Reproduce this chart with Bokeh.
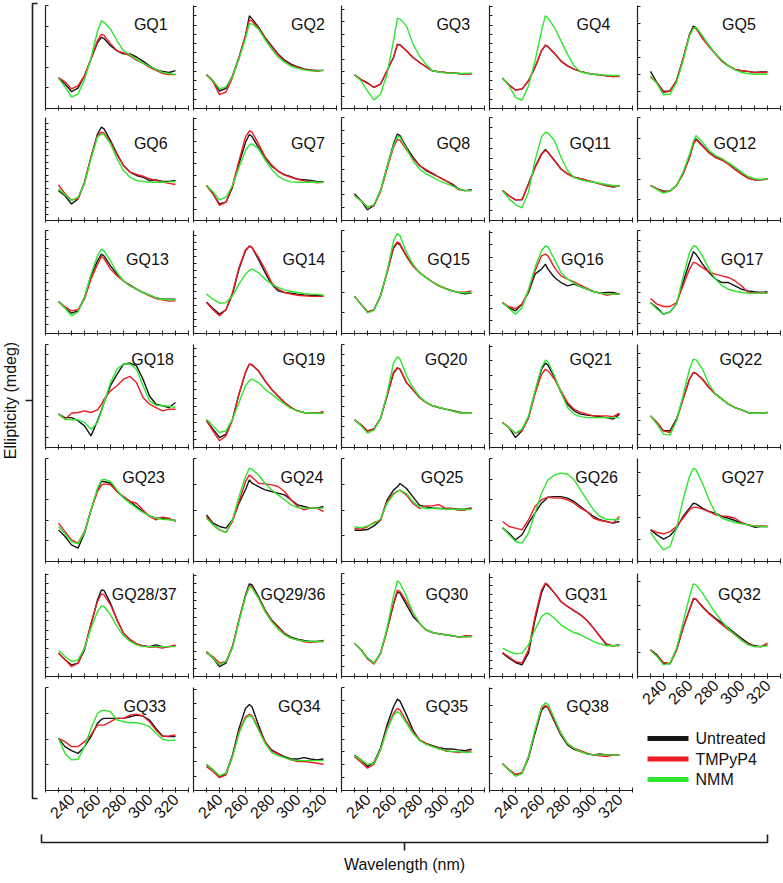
import math
from bokeh.plotting import figure
from bokeh.models import Range1d, FixedTicker, Label
from bokeh.layouts import row, column
from bokeh.core.properties import value
from bokeh.embed import file_html
from bokeh.resources import INLINE

# ---------------- data ----------------
WAVELENGTH = [230, 235, 240, 245, 250, 255, 260, 263, 265, 270, 275, 280, 285, 290, 295, 300, 305, 310, 315, 320]
X_TICK_LABELS = [240, 260, 280, 300, 320]
SERIES_NAMES = ["Untreated", "TMPyP4", "NMM"]

PANEL_GRID = [
    ["GQ1", "GQ2", "GQ3", "GQ4", "GQ5"],
    ["GQ6", "GQ7", "GQ8", "GQ11", "GQ12"],
    ["GQ13", "GQ14", "GQ15", "GQ16", "GQ17"],
    ["GQ18", "GQ19", "GQ20", "GQ21", "GQ22"],
    ["GQ23", "GQ24", "GQ25", "GQ26", "GQ27"],
    ["GQ28/37", "GQ29/36", "GQ30", "GQ31", "GQ32"],
    ["GQ33", "GQ34", "GQ35", "GQ38", None],
]

# CD signal, read off each panel as % of the panel height (no y scale is printed)
UNTREATED = {
    "GQ1": [29.5, 23.7, 16.5, 19.8, 31.8, 48, 64, 69, 68, 61, 56, 53, 53, 50, 46, 41.5, 37.7, 36, 35, 36.7],
    "GQ2": [32.7, 27, 17, 19.5, 31.7, 49.5, 71, 90, 87, 79, 69, 61, 53, 47, 43, 40.5, 38.5, 37.5, 37, 37],
    "GQ3": [32.7, 28, 25, 20.4, 23.6, 36.6, 49.5, 62.5, 61.8, 56, 49.5, 44.7, 40.5, 36.6, 35.6, 35, 34.6, 34, 33.3, 34],
    "GQ4": [29.4, 23, 18, 18.8, 26.9, 39.8, 56, 61.5, 60, 53.4, 46, 41.4, 38.2, 36, 34.3, 33.3, 32.7, 31.7, 31, 31.7],
    "GQ5": [36, 25, 16.5, 17, 27, 48, 72, 80, 78.6, 69, 61, 53, 46, 41.4, 38, 36.6, 36, 35, 35.6, 35.6],
    "GQ6": [29, 24, 16, 21, 37, 61.5, 84, 90.6, 89, 77.7, 64.7, 53.4, 47, 43.7, 42, 38.8, 39.5, 38, 38, 38.8],
    "GQ7": [34, 26, 16, 17.8, 32.4, 55, 76, 83.5, 81.5, 71, 61, 53, 48, 44.5, 42.5, 40, 39.5, 39, 38, 37.5],
    "GQ8": [26, 19.4, 10.4, 14.6, 29, 51.8, 74.4, 84, 82.5, 71, 61.5, 53.4, 48.5, 45.3, 42, 38.8, 35.6, 30.7, 29, 30],
    "GQ11": [29, 24, 20, 20, 35.6, 51.8, 64.7, 69, 66.3, 58.3, 50, 45.3, 42, 40.5, 38.8, 37.2, 35.6, 34, 32.4, 33.6],
    "GQ12": [34, 30.7, 28.5, 28.5, 34, 45.3, 61.5, 75, 79.3, 72.8, 66.3, 61.5, 59, 55, 50, 45.3, 41.4, 39.5, 39.5, 40.5],
    "GQ13": [31, 25, 19.7, 22, 35, 56, 70.6, 77, 75.4, 65.7, 57.6, 51, 47, 43, 39.8, 37.2, 34.6, 33.3, 33.3, 33.3],
    "GQ14": [30.7, 24.3, 18.8, 23, 38.2, 62.5, 80.3, 85, 83.5, 72, 59.2, 48, 41.4, 39.8, 39.2, 38.2, 37.5, 37.2, 37.2, 36.6],
    "GQ15": [36, 28.5, 21, 23, 36.6, 59, 83, 88, 86, 75, 65.7, 59.2, 54.4, 50, 46.3, 43.7, 41.4, 39.8, 38.5, 39.2],
    "GQ16": [30, 25, 22, 28.5, 39.8, 57.6, 62.5, 67.3, 62.5, 54.4, 49.5, 46.3, 47.9, 45.6, 43, 40.8, 39.2, 39.8, 39.8, 38.2],
    "GQ17": [30, 25, 18.8, 21, 28.5, 49.5, 69, 79.3, 77, 67.3, 59.2, 52.8, 49.5, 49.5, 46.3, 43, 41.4, 40.5, 39.8, 40.5],
    "GQ18": [32.4, 29, 29, 26, 21, 11.3, 26, 36, 43.7, 60, 71, 81, 82, 79.3, 66.3, 50, 42, 40.5, 38.8, 43.7],
    "GQ19": [26, 17.8, 9.7, 13, 27.5, 51.8, 72.8, 81, 80, 74.4, 64.7, 56.6, 50, 43.7, 38.8, 35.6, 34, 33.3, 33.3, 34.6],
    "GQ20": [27, 22, 16, 18, 28, 50, 72, 77, 76, 63, 56, 48.5, 43.7, 40.5, 38.8, 37.2, 36, 34.5, 33.3, 33.3],
    "GQ21": [24.3, 19.4, 9.7, 16.2, 29, 53.4, 76, 81.9, 80, 68, 53.4, 42, 35.6, 32.4, 31.4, 30.7, 30, 29, 27.5, 32.4],
    "GQ22": [30.7, 24.3, 16.2, 16.2, 27.5, 47, 66.3, 72.8, 72, 66.3, 58.3, 51.8, 47, 42, 38.8, 36.6, 34, 33.3, 33.3, 34],
    "GQ23": [30.7, 24.3, 16.2, 13, 27.5, 50, 69.6, 77.7, 77.7, 76, 68, 62.5, 58.3, 53.4, 48.5, 44.3, 42, 42, 41, 39.8],
    "GQ24": [45.3, 37.2, 34, 32.4, 40.5, 56.6, 69.6, 79.3, 76, 72.8, 69.6, 68, 66.3, 64.7, 59.9, 55, 53.4, 51.8, 51.8, 53.4],
    "GQ25": [30.4, 30.4, 31, 34.6, 40, 59.5, 69.3, 72.5, 75.7, 70.9, 62.8, 54.7, 53, 52, 51.5, 51.5, 51.5, 50.8, 50.8, 52],
    "GQ26": [32.4, 27.5, 21, 26, 37.2, 47, 56.6, 60, 62.5, 63, 63, 61.5, 58.3, 53.4, 48.5, 43.7, 40.5, 38.8, 37.2, 38.8],
    "GQ27": [30.7, 25.9, 21.7, 25, 32.4, 43.7, 51.8, 56.6, 56, 51.8, 48.5, 47, 43.7, 42, 39.8, 37.2, 35.6, 33.3, 34, 34],
    "GQ28/37": [22.7, 16.2, 11.3, 13, 25.9, 50.2, 74.4, 84, 83.5, 71.2, 55, 42, 35.6, 31.7, 29.8, 29, 30.7, 29, 29, 29.8],
    "GQ29/36": [24.3, 17.8, 9.7, 13, 29, 55, 79.3, 90, 89, 77.7, 64.7, 55, 48.5, 42, 38.2, 36.2, 35, 34, 34, 35],
    "GQ30": [32.4, 26, 17.8, 13, 22.7, 45, 70, 82, 81, 69.6, 58.3, 51.8, 45.3, 42.7, 41.4, 40.5, 39.5, 38.5, 38.8, 38.8],
    "GQ31": [22.7, 17.8, 13.6, 11.3, 22.7, 55, 81, 90, 88, 81, 72.8, 68, 64, 59.9, 54.4, 47, 38.8, 30.7, 29.8, 30.7],
    "GQ32": [25.9, 21, 13, 12.3, 25.9, 47, 64.7, 75, 75, 68, 61.5, 56.6, 51.8, 47, 42, 37.2, 32.4, 29.8, 29, 30.7],
    "GQ33": [50.6, 42.6, 38.7, 36, 42.6, 52.3, 65.2, 69, 70, 70, 70, 70, 71.6, 73.2, 72.3, 68.4, 60.3, 52.9, 52.3, 52.3],
    "GQ34": [24.8, 20, 12.6, 16.8, 34.5, 60.3, 79.7, 83.5, 81.3, 63.5, 47.4, 39.4, 36.1, 32.9, 30.6, 30.6, 31.9, 30.6, 29.7, 30.6],
    "GQ35": [34.5, 29.7, 23.2, 27.4, 41, 63.5, 81.3, 88.7, 86.8, 73.2, 58.7, 49, 45.8, 43.5, 41.6, 40.3, 40.3, 39.4, 38.7, 40],
    "GQ38": [26, 20.2, 15.4, 17, 31.4, 55.4, 77.9, 81.7, 80.4, 66.7, 53.8, 44.2, 40, 37.8, 35.6, 34.6, 35.6, 34.6, 34.6, 34.6],
}

TMPYP4 = {
    "GQ1": [30, 26, 19, 22, 32, 48, 66, 72, 71, 63, 56, 54, 51, 47, 44, 40, 37, 34, 33, 33],
    "GQ2": [32.7, 26, 13.5, 16, 30, 49, 71, 86, 85, 78, 68, 60, 52, 46, 42, 40, 38, 37, 36, 37],
    "GQ3": [32.7, 28, 24.5, 20.4, 23.6, 36.6, 49.5, 62, 61.5, 56, 49.5, 44.7, 40.5, 36.6, 35.6, 35, 34.6, 34, 33.3, 33.5],
    "GQ4": [29.4, 23, 18, 19, 27, 40, 56, 61.5, 60, 53.4, 46, 41.4, 38.2, 36, 34.3, 33.3, 32.7, 31.7, 31, 31],
    "GQ5": [30.7, 25, 15.5, 17, 27, 48, 71, 78.6, 77.5, 68, 60, 53, 46, 41.4, 38, 36.6, 36, 35, 35, 35],
    "GQ6": [34.6, 26, 20, 21, 37, 61.5, 82.5, 85.8, 84.8, 76, 63.8, 53.4, 47, 44.7, 43, 40.5, 38.8, 37.2, 36, 35],
    "GQ7": [34, 26, 14.6, 17.8, 34, 58, 81, 87, 85.8, 74.4, 62, 54, 48, 44, 42, 40, 38.5, 37.5, 36.5, 37],
    "GQ8": [24, 19.4, 13, 14.6, 27.5, 50, 71, 79, 77.7, 68.6, 60, 53.4, 49.5, 46, 42, 38.8, 34.6, 30, 29, 29],
    "GQ11": [29, 24, 20, 20.5, 35, 51, 64, 68, 66, 58, 50, 45.3, 42, 40.5, 38.8, 37.2, 35.6, 34, 33, 34],
    "GQ12": [34, 30.7, 27.5, 28.5, 34, 45.3, 61, 74, 78.3, 72, 65.5, 61, 58.5, 54.5, 49.5, 45, 41, 39.5, 39.5, 40],
    "GQ13": [31, 26, 22, 23, 33.3, 52.8, 67.3, 74.8, 72.8, 62.5, 56, 51, 46.3, 43, 39.8, 36.6, 34, 32.7, 31.4, 31.7],
    "GQ14": [30, 23, 17.2, 23, 39.8, 64, 81.2, 84.5, 83.5, 73.8, 62.5, 49.5, 43, 39.8, 38.2, 37.2, 36.6, 36, 36, 36],
    "GQ15": [36, 28.5, 21, 23, 36.6, 59, 84, 89, 87, 75.4, 65.7, 59.2, 54.4, 50, 46.3, 43.7, 41.4, 40, 40, 41.4],
    "GQ16": [30, 26, 24.3, 28.5, 41.4, 60.8, 75.4, 77, 75.4, 64, 56, 52.8, 50, 47, 43.7, 40.8, 39.2, 37.2, 38.2, 38.2],
    "GQ17": [34, 28.5, 26.2, 26.2, 30, 46.3, 62.5, 69, 68.3, 64, 59.9, 57.6, 56, 54.4, 51, 46.3, 39.8, 39.2, 39.8, 39.2],
    "GQ18": [32.4, 27.5, 33.3, 34, 35.6, 34, 36.6, 42, 47, 55, 60, 66.3, 69, 63, 48.5, 42, 38.8, 35.6, 37.2, 37.2],
    "GQ19": [26, 16, 6.5, 11.3, 27, 52, 73, 81, 80.5, 74.4, 64.7, 56.6, 50, 43.7, 38.8, 35.6, 34, 33.3, 33.3, 34.6],
    "GQ20": [27, 22, 16, 18, 28, 50, 73, 77.7, 76, 63, 56, 48.5, 43.7, 40.5, 38.8, 37.2, 35.6, 34, 33.3, 33.3],
    "GQ21": [24.3, 19.4, 13.9, 16.2, 29, 51.8, 71, 76, 74.4, 66.3, 55, 43.7, 37.2, 34, 32.4, 30.7, 30.7, 30.7, 30, 33.3],
    "GQ22": [30.7, 24.3, 16.2, 14.6, 26, 47, 66.3, 72.8, 72, 66.3, 58.3, 51.8, 47, 42, 38.8, 36.6, 34, 33.3, 33.3, 34],
    "GQ23": [37.2, 29, 21, 17.8, 29, 50, 68, 74, 75.4, 74.4, 68, 63, 58.3, 56.6, 50, 43.7, 40.5, 43, 42, 38.8],
    "GQ24": [43.7, 35.6, 30.7, 28.2, 38.8, 58.3, 77.7, 84, 81.9, 76, 75.4, 74.4, 72.8, 68, 59.9, 53.4, 50.2, 51.8, 51.8, 48.5],
    "GQ25": [32, 31.4, 33.7, 37.9, 40, 58, 66, 68, 69.3, 64.4, 56.3, 51.5, 54, 54, 55.3, 51.5, 51.5, 49.8, 49.8, 52],
    "GQ26": [38.8, 34, 32.4, 30.7, 40.5, 53.4, 59.9, 61.5, 62.5, 61.5, 61.5, 59.9, 56.6, 51.8, 48.5, 42, 39.8, 38.8, 37.2, 43.7],
    "GQ27": [31, 28.2, 26.9, 29, 34, 42, 50.2, 52.5, 52.8, 50.8, 48.5, 45.3, 44.3, 43.7, 42, 37.9, 35.6, 34.6, 34.6, 34],
    "GQ28/37": [22.7, 16.5, 9.7, 13, 27.5, 51.8, 72.8, 80.3, 79.3, 69.6, 55, 42, 36, 31.7, 29.8, 28.5, 28.5, 27.5, 29, 30.7],
    "GQ29/36": [22.7, 19.4, 13, 14.6, 29, 55, 77.7, 88, 87.4, 76, 64, 54.4, 47.9, 41.4, 37.2, 35.6, 34, 33, 34, 34],
    "GQ30": [32.4, 26, 17, 12, 22, 45, 71, 84, 82.5, 72.8, 61.5, 51.8, 45.3, 42.7, 41.4, 40.5, 39.5, 38.2, 39.5, 39.5],
    "GQ31": [23.3, 18.8, 14.6, 13, 25.9, 58.3, 84, 90.6, 89, 81, 72.8, 68, 64, 59.9, 54.4, 47, 38.8, 31.7, 29.8, 30],
    "GQ32": [25.9, 20, 13.6, 13, 25.2, 47, 64.7, 76, 75, 67.3, 60.8, 55.6, 50.2, 45.3, 40.5, 35.6, 31.7, 29, 29, 32.4],
    "GQ33": [50.6, 47.4, 42.6, 42.6, 47.4, 53.9, 63.5, 63.5, 63.5, 66.8, 70, 70, 73.2, 74.2, 72.3, 66.8, 58.7, 52.3, 52.9, 53.9],
    "GQ34": [23.2, 18.4, 12.6, 15.2, 32.9, 57.1, 71.6, 73.9, 72.6, 60.3, 47.4, 38.4, 35.2, 31.9, 29.7, 28.1, 28.1, 27.4, 26.5, 25.5],
    "GQ35": [32.9, 27.4, 21.6, 25.5, 39.4, 60.3, 74.8, 79.7, 78, 67.4, 57.1, 49, 45.8, 42.6, 41, 38.4, 37.7, 36.8, 37.7, 38.4],
    "GQ38": [26, 20.2, 15.4, 17.3, 33, 57, 79.5, 82.7, 81, 68.3, 55.4, 45.2, 41, 38.8, 36.2, 34.6, 33.7, 33, 34.6, 34.6],
}

NMM = {
    "GQ1": [29.5, 21, 11, 14, 28, 49, 75, 85, 84, 77, 66, 56, 52, 48, 44, 41, 38, 35, 34, 33],
    "GQ2": [32, 27, 19, 21, 31, 48, 68, 82.5, 82, 77, 67, 58, 50, 45, 41, 39, 37.5, 36.5, 36.5, 37],
    "GQ3": [32.7, 26.9, 17.2, 8.4, 13.9, 33.3, 65.7, 87.5, 87, 80, 62.5, 51, 43, 36.6, 35.3, 34.6, 34.3, 34, 34, 34.3],
    "GQ4": [30, 22, 10.7, 8, 22, 46, 75.4, 90, 87.7, 78.6, 65.7, 52.8, 41.4, 35.6, 34, 33.3, 32.7, 32.4, 32, 32],
    "GQ5": [31.7, 24, 13.3, 14, 25, 46, 70.6, 77.5, 79, 70.6, 61, 53.4, 47, 41.4, 37.5, 35, 34, 33.3, 33.3, 33.3],
    "GQ6": [30.7, 25, 19.4, 22.6, 35.6, 60, 81, 84, 83.5, 74.4, 60, 48.5, 42, 38.8, 38, 37.2, 37.2, 37.2, 37.5, 37.9],
    "GQ7": [34, 28, 20, 22.6, 34, 51.8, 68, 73.5, 74.4, 69.6, 59, 50, 43, 39.5, 37.5, 37.2, 37.2, 37.2, 37.2, 37.2],
    "GQ8": [24, 19, 13, 15.5, 29, 51.8, 72.8, 81.5, 81, 69.6, 58, 50, 45.3, 42, 38.8, 36, 33.7, 30.7, 29, 29],
    "GQ11": [29, 21, 15.5, 12.3, 27.5, 58.3, 81, 85.8, 85, 77.7, 61.5, 48.5, 42, 39.5, 38.2, 37.2, 36.2, 35, 34, 33.3],
    "GQ12": [34, 30, 26.5, 28.5, 34, 47, 64, 77, 82.5, 76, 68, 63, 60, 56, 51.8, 47, 42.7, 40.5, 39.8, 40.5],
    "GQ13": [31, 24.5, 17.2, 21, 35, 57.6, 75.4, 81.9, 80.3, 70.6, 59.2, 51, 46.3, 43, 39.8, 37.2, 34.6, 33.3, 32.7, 32.7],
    "GQ14": [38.2, 33.3, 29.4, 30, 36.6, 48, 57.6, 61.5, 62.5, 59.2, 52.8, 48, 44.7, 42.4, 40.8, 39.8, 38.8, 38.2, 38, 37.2],
    "GQ15": [36, 28.5, 20, 22.5, 36, 60, 90, 97, 95, 78.6, 67.3, 59.2, 54, 50, 46.5, 43.5, 41.4, 39.8, 39.5, 39.5],
    "GQ16": [30, 24.3, 18.8, 25, 43, 64, 80.3, 85, 84, 72, 59.2, 52.8, 48.9, 45.6, 43, 40.8, 39.2, 38.2, 38.2, 38.2],
    "GQ17": [30, 23.6, 18.8, 21, 28.5, 54.4, 78.6, 85, 84.5, 75.4, 62.5, 52.8, 46.3, 43, 41, 39.8, 39.2, 39.2, 39.2, 39.2],
    "GQ18": [32.4, 27.5, 26.9, 26.9, 24.3, 17.8, 24.3, 35, 43.7, 63, 76, 81, 81, 76, 60, 45.3, 41, 40.5, 40, 38.8],
    "GQ19": [27.5, 21, 14.6, 16.2, 27.5, 43.7, 60, 65, 66.3, 63, 56.6, 51.8, 47, 42, 37.9, 35.6, 34, 33.3, 33, 33.3],
    "GQ20": [27, 21, 14, 17, 28, 52, 82, 88, 86, 69.6, 58, 49.5, 44, 40.5, 38.8, 37.2, 35.6, 34, 33.3, 33.3],
    "GQ21": [24.3, 19.4, 13.9, 17.8, 30.7, 55, 77.7, 85, 83, 69.6, 53.4, 38.8, 32.4, 30, 29, 29, 29, 29, 29, 29],
    "GQ22": [30.7, 22.6, 13, 12, 26, 50, 76, 85.8, 85, 76, 61.5, 51.8, 47, 42, 38.8, 36.6, 34, 33.3, 33.3, 34],
    "GQ23": [34, 26.9, 19.4, 17.2, 28.2, 50, 71, 79, 80, 77.7, 69.6, 61.5, 56.6, 51.8, 47.6, 44.3, 42, 41, 40.5, 39.8],
    "GQ24": [42, 35.6, 30.7, 28.2, 40.5, 63, 82.5, 90.6, 89.6, 84, 76, 69.6, 64.7, 59.9, 55, 52.4, 51.8, 51.8, 51.8, 51.8],
    "GQ25": [33.7, 32.7, 34.6, 36.9, 41, 56.3, 65, 68, 69.3, 66, 58, 53, 51.5, 51.5, 51.5, 50.8, 50.8, 50.5, 50.5, 50.5],
    "GQ26": [33.3, 25.9, 19.4, 17.8, 27.5, 47, 66.3, 74, 79.3, 84, 85.8, 85, 79.3, 69.6, 59.9, 50.2, 43.7, 41, 40.5, 41],
    "GQ27": [28.2, 19.4, 11.3, 14.6, 32.4, 59.9, 82.5, 90.6, 89, 76, 59.9, 47, 42, 39.8, 37.9, 36.6, 35.6, 34.6, 34, 34],
    "GQ28/37": [25.2, 19.4, 14.6, 16.2, 27.5, 47, 63, 68.6, 68, 59.9, 48.5, 39.5, 34, 30.7, 29, 29, 29, 29, 29, 29],
    "GQ29/36": [24.3, 18, 11.3, 14.6, 27.5, 53.4, 77.7, 87.4, 85.8, 76, 63, 53.4, 46, 40.5, 37.2, 35.6, 34.6, 34, 34, 34],
    "GQ30": [32.4, 26, 18, 13, 22.7, 47, 78, 93, 90.6, 77.7, 62, 52, 45.3, 42.7, 41.4, 40.5, 39.5, 38.5, 38.5, 38.8],
    "GQ31": [27.5, 24.3, 22, 22.7, 30.7, 45.3, 58.3, 61, 61.5, 56.6, 50.2, 46, 42.7, 40.5, 37.2, 34, 31.7, 29.8, 29.8, 30],
    "GQ32": [25.2, 19.4, 11.3, 13, 27.5, 51.8, 77.7, 90, 89, 81, 71.2, 61.5, 53.4, 46, 40.5, 35, 30.7, 29, 29, 29.8],
    "GQ33": [50.6, 36, 29.7, 30.3, 42.6, 60.3, 74.8, 77.5, 78, 76.5, 68.4, 66.8, 65.8, 65.8, 64.5, 61.9, 55.5, 49.7, 48.4, 49],
    "GQ34": [25.5, 20, 14.5, 16.8, 32.9, 55.5, 70, 72.6, 71.6, 58.7, 45.8, 37.1, 33.9, 31.9, 29.7, 29, 29, 29, 29, 29],
    "GQ35": [33.9, 29.7, 25.5, 26.5, 39.4, 58.7, 73.2, 76.5, 74.8, 65.2, 55.5, 48.4, 44.8, 42.6, 40.3, 38.7, 37.7, 37.7, 37.1, 37.1],
    "GQ38": [26, 19.6, 13.8, 16.3, 33, 58.7, 81, 85, 83.7, 69.9, 55.4, 45.8, 41, 37.8, 35.6, 34.6, 34.6, 34.6, 34.6, 34.6],
}
SERIES_DATA = [UNTREATED, TMPYP4, NMM]

# ---------------- styling / placement ----------------
FONT = "Liberation Sans"
AXIS_COLOR = "#1e1e1e"
TEXT_COLOR = "#111111"
COLORS = ["#151515", "#ee1c24", "#2fe62f"]
X_MINOR = [220, 230, 240, 250, 260, 270, 280, 290, 300, 310, 320, 330]
LABEL_X = {
    "GQ1": 288, "GQ2": 295, "GQ3": 293, "GQ4": 287, "GQ5": 285,
    "GQ6": 288, "GQ7": 295, "GQ8": 293, "GQ11": 281.5, "GQ12": 278.5,
    "GQ13": 282, "GQ14": 288.5, "GQ15": 286, "GQ16": 275, "GQ17": 284,
    "GQ18": 286, "GQ19": 288.5, "GQ20": 284, "GQ21": 281.5, "GQ22": 283,
    "GQ23": 279, "GQ24": 287, "GQ25": 281, "GQ26": 286, "GQ27": 284.6,
    "GQ28/37": 271, "GQ29/36": 271.5, "GQ30": 284.6, "GQ31": 278, "GQ32": 282,
    "GQ33": 280, "GQ34": 285, "GQ35": 284.6, "GQ38": 279,
}
ROW_LABEL_OFFSET = [19, 26, 29, 15, 19, 21, 19]   # px from panel top to label baseline
ROW_BORDER_BOTTOM = [4, 5, 6, 6, 7, 6, 40]
LABELED_BORDER_BOTTOM = 40
Y_TICK_STEP = {
    "GQ1": 20, "GQ2": 9, "GQ3": 12, "GQ4": 9, "GQ5": 16.5,
    "GQ6": 6.3, "GQ7": 11, "GQ8": 12.5, "GQ11": 10, "GQ12": 20,
    "GQ13": 8.3, "GQ14": 6.8, "GQ15": 20, "GQ16": 12.3, "GQ17": 10,
    "GQ18": 10, "GQ19": 8, "GQ20": 10, "GQ21": 14, "GQ22": 13,
    "GQ23": 20, "GQ24": 25, "GQ25": 25, "GQ26": 20, "GQ27": 21.5,
    "GQ28/37": 9, "GQ29/36": 8.2, "GQ30": 10, "GQ31": 8, "GQ32": 23,
    "GQ33": 25, "GQ34": 14, "GQ35": 12.5, "GQ38": 16.5,
}
FRAME_W, FRAME_H = 143, 103
LEFT_W = 41
COL_W = 148
BORDER_L, BORDER_R, BORDER_T = 4, 1, 5


def make_panel(name, r, labeled):
    bottom = LABELED_BORDER_BOTTOM if labeled else ROW_BORDER_BOTTOM[r]
    p = figure(title=None, frame_width=FRAME_W, frame_height=FRAME_H,
               x_range=Range1d(220, 330), y_range=Range1d(0, 100),
               output_backend="svg", toolbar_location=None,
               min_border_left=BORDER_L, min_border_right=BORDER_R,
               min_border_top=BORDER_T, min_border_bottom=bottom)
    p.outline_line_color = None
    p.xgrid.visible = False
    p.ygrid.visible = False
    for data, color in zip(SERIES_DATA, COLORS):
        p.line(WAVELENGTH, data[name], line_color=color, line_width=1.4)

    xa = p.xaxis[0]
    xa.ticker = FixedTicker(ticks=X_TICK_LABELS if labeled else [], minor_ticks=X_MINOR)
    xa.axis_line_color = AXIS_COLOR
    xa.axis_line_width = 1.2
    xa.major_tick_line_color = AXIS_COLOR
    xa.minor_tick_line_color = AXIS_COLOR
    xa.major_tick_in, xa.major_tick_out = 3, 2
    xa.minor_tick_in, xa.minor_tick_out = 3, 2
    if labeled:
        xa.major_label_orientation = math.pi / 4
        xa.major_label_text_font = FONT
        xa.major_label_text_font_size = "16px"
        xa.major_label_text_color = TEXT_COLOR
        xa.major_label_standoff = 4
    else:
        xa.major_label_standoff = 0

    step = Y_TICK_STEP[name]
    yt = [round(k * step, 2) for k in range(1, int(100 / step) + 1)]
    ya = p.yaxis[0]
    ya.ticker = FixedTicker(ticks=[], minor_ticks=yt)
    ya.axis_line_color = AXIS_COLOR
    ya.axis_line_width = 1.2
    ya.minor_tick_line_color = AXIS_COLOR
    ya.minor_tick_in, ya.minor_tick_out = 3, 0
    ya.major_tick_in, ya.major_tick_out = 0, 0
    ya.major_label_standoff = 0

    off = ROW_LABEL_OFFSET[r]
    p.add_layout(Label(x=LABEL_X[name], y=100 * (1 - off / FRAME_H), text=name,
                       text_font=FONT, text_font_size="16px", text_color=TEXT_COLOR,
                       text_align="left", text_baseline="alphabetic"))
    return p


def make_legend_fig(height, top_offset):
    # legend drawn in pixel-like coordinates of its own cell
    lf = figure(title=None, frame_width=COL_W, frame_height=height,
                x_range=Range1d(0, COL_W), y_range=Range1d(height, 0),
                output_backend="svg", toolbar_location=None, min_border=0,
                x_axis_location=None, y_axis_location=None)
    lf.outline_line_color = None
    lf.grid.visible = False
    row_y = [top_offset + 20.5 * i for i in range(len(SERIES_NAMES))]
    lf.segment(x0=[10] * 3, y0=row_y, x1=[51] * 3, y1=row_y, line_color=COLORS, line_width=5)
    lf.text(x=[58] * 3, y=row_y, text=SERIES_NAMES, text_font=value(FONT),
            text_font_size="16px", text_color=TEXT_COLOR,
            text_align="left", text_baseline="middle")
    return lf


n_rows = len(PANEL_GRID)
columns = []
col_heights = []
for c in range(5):
    figs = []
    h = 0
    for r in range(n_rows):
        name = PANEL_GRID[r][c]
        if name is None:
            continue
        below_is_empty = (r + 1 < n_rows and PANEL_GRID[r + 1][c] is None)
        labeled = (r == n_rows - 1) or below_is_empty
        figs.append(make_panel(name, r, labeled))
        h += BORDER_T + FRAME_H + (LABELED_BORDER_BOTTOM if labeled else ROW_BORDER_BOTTOM[r])
    col_heights.append(h)
    columns.append(figs)

GRID_H = max(col_heights)
for c in range(5):
    if col_heights[c] < GRID_H:
        # first legend row sits at page y ~738
        columns[c].append(make_legend_fig(GRID_H - col_heights[c], 738 - col_heights[c]))
grid = row(*[column(*figs) for figs in columns])

# left bracket with y title
lb = figure(title=None, frame_width=LEFT_W, frame_height=GRID_H,
            x_range=Range1d(0, LEFT_W), y_range=Range1d(GRID_H, 0),
            output_backend="svg", toolbar_location=None, min_border=0,
            x_axis_location=None, y_axis_location=None)
lb.outline_line_color = None
lb.grid.visible = False
lb.line(x=[37, 32, 32, 37], y=[3, 3, 798, 798], line_color=AXIS_COLOR, line_width=1.6)
lb.segment(x0=[25], y0=[400], x1=[32], y1=[400], line_color=AXIS_COLOR, line_width=1.6)
lb.add_layout(Label(x=10, y=400, text="Ellipticity (mdeg)", angle=math.pi / 2,
                    text_font=FONT, text_font_size="16px", text_color=TEXT_COLOR,
                    text_align="center", text_baseline="middle"))

# bottom bracket with x title
TOTAL_W = LEFT_W + 5 * COL_W
BOT_H = 44
bb = figure(title=None, frame_width=TOTAL_W, frame_height=BOT_H,
            x_range=Range1d(0, TOTAL_W), y_range=Range1d(BOT_H, 0),
            output_backend="svg", toolbar_location=None, min_border=0,
            x_axis_location=None, y_axis_location=None)
bb.outline_line_color = None
bb.grid.visible = False
bb.line(x=[41, 41, 767, 767], y=[4, 12, 12, 4], line_color=AXIS_COLOR, line_width=1.6)
bb.segment(x0=[404], y0=[12], x1=[404], y1=[20], line_color=AXIS_COLOR, line_width=1.6)
bb.add_layout(Label(x=404, y=34, text="Wavelength (nm)",
                    text_font=FONT, text_font_size="16px", text_color=TEXT_COLOR,
                    text_align="center", text_baseline="middle"))

layout = column(row(lb, grid), bb)

with open("out.html", "w") as f:
    f.write(file_html(layout, INLINE))
